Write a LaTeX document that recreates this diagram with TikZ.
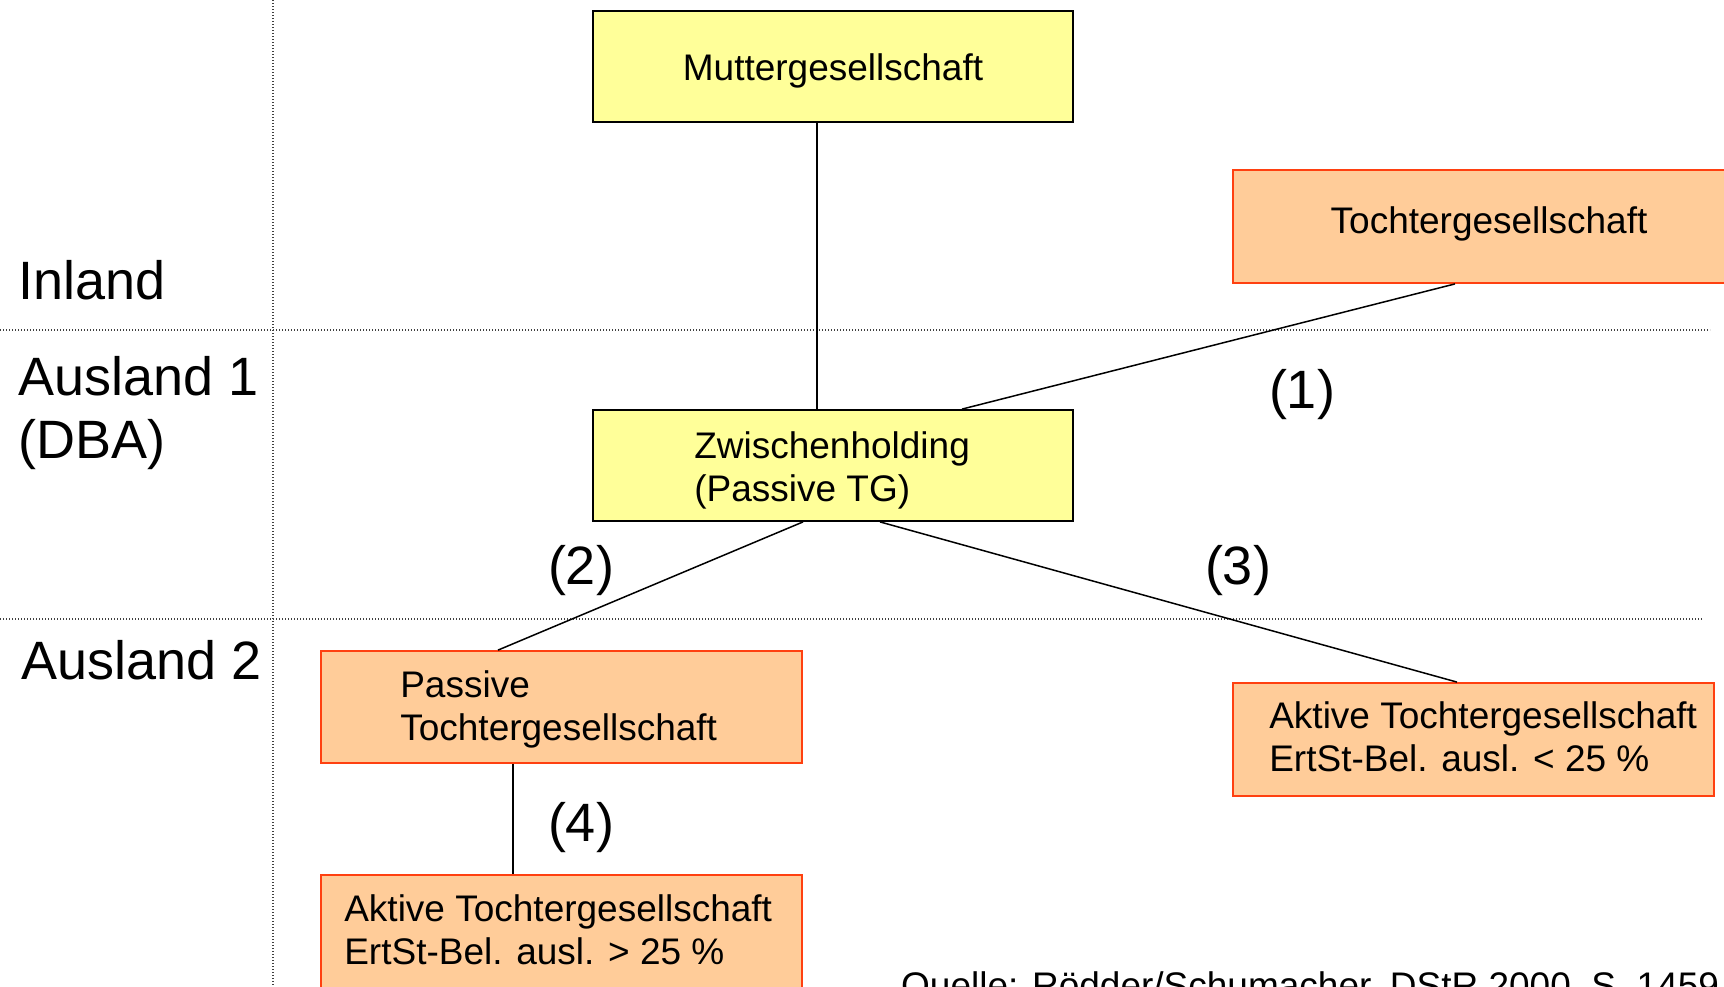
\documentclass[tikz,border=0pt]{standalone}
\usepackage{fontspec}
\setmainfont{Liberation Sans}
\definecolor{yfill}{HTML}{FFFF99}
\definecolor{ofill}{HTML}{FFCC99}
\definecolor{oline}{HTML}{FF4010}
\definecolor{gridc}{HTML}{404040}
\begin{document}
\begin{tikzpicture}[x=1pt,y=-1pt,
  boxtext/.style={font=\fontsize{37}{43}\selectfont},
  ybox/.style={boxtext,draw=black,line width=1.8pt,fill=yfill,minimum width=480,minimum height=111,inner sep=0pt},
  obox/.style={boxtext,draw=oline,line width=1.8pt,fill=ofill,minimum width=481,minimum height=112,inner sep=0pt},
  txt/.style={boxtext,align=left,inner sep=0pt},
  biglab/.style={font=\fontsize{54}{60}\selectfont,inner sep=0pt},
  conn/.style={line width=1.5pt,draw=black},
  gridline/.style={draw=gridc,line width=1.4pt,dash pattern=on 1.4pt off 1.6pt}]
\useasboundingbox (0,0) rectangle (1724,986);
\clip (0,0) rectangle (1724,986);
\fill[white] (0,0) rectangle (1724,986);

% grid lines
\draw[gridline] (273,0) -- (273,986);
\draw[gridline] (0,330) -- (1710,330);
\draw[gridline] (0,619) -- (1702,619);

% region labels
\node[biglab,anchor=base west] (inland) at (18,299) {Inland};
\node[biglab,anchor=base west] (ausl1) at (18,395) {Ausland 1};
\node[biglab,anchor=base west] (dba) at (18,458) {(DBA)};
\node[biglab,anchor=base west] (ausl2) at (21,679) {Ausland 2};

% boxes
\node[ybox] (mutter) at (833,66.5) {};
\node[txt] (muttert) at ([yshift=-4]mutter.center) {Muttergesellschaft};
\node[obox,minimum width=512,minimum height=113] (tochter) at (1489,226.5) {};
\node[txt] (tochtert) at ([yshift=3]tochter.center) {Tochtergesellschaft};
\node[ybox] (zw) at (833,465.5) {};
\node[txt,anchor=west] (zwt) at ([xshift=102,yshift=-5]zw.west) {Zwischenholding\\(Passive TG)};
\node[obox] (ptg) at (561.5,707) {};
\node[txt,anchor=west] (ptgt) at ([xshift=80,yshift=-2]ptg.west) {Passive\\Tochtergesellschaft};
\node[obox,minimum height=113] (atgl) at (561.5,931.5) {};
\node[txt,anchor=west] (atglt) at ([xshift=24,yshift=2]atgl.west) {Aktive Tochtergesellschaft\\ErtSt-Bel. ausl. > 25 \%};
\node[obox,minimum height=113] (atgr) at (1473.5,739.5) {};
\node[txt,anchor=west] (atgrt) at ([xshift=37,yshift=3]atgr.west) {Aktive Tochtergesellschaft\\ErtSt-Bel. ausl. < 25 \%};

% connectors
\draw[conn] ([xshift=-16]mutter.south) -- ([xshift=-16]zw.north);
\draw[conn] ([xshift=-34]tochter.south) -- ([xshift=129]zw.north);
\draw[conn] ([xshift=-30]zw.south) -- ([xshift=-63.5]ptg.north);
\draw[conn] ([xshift=47]zw.south) -- ([xshift=-16.5]atgr.north);
\draw[conn] ([xshift=-48.5]ptg.south) -- ([xshift=-48.5]atgl.north);

% connector labels
\node[biglab] (l1) at (1302,395) {(1)};
\node[biglab] (l2) at (581,571) {(2)};
\node[biglab] (l3) at (1238,571) {(3)};
\node[biglab] (l4) at (581,828) {(4)};

% source
\node[boxtext,anchor=base west,inner sep=0pt] (quelle) at (901,998) {Quelle: Rödder/Schumacher, DStR 2000, S. 1459};
\end{tikzpicture}
\end{document}
